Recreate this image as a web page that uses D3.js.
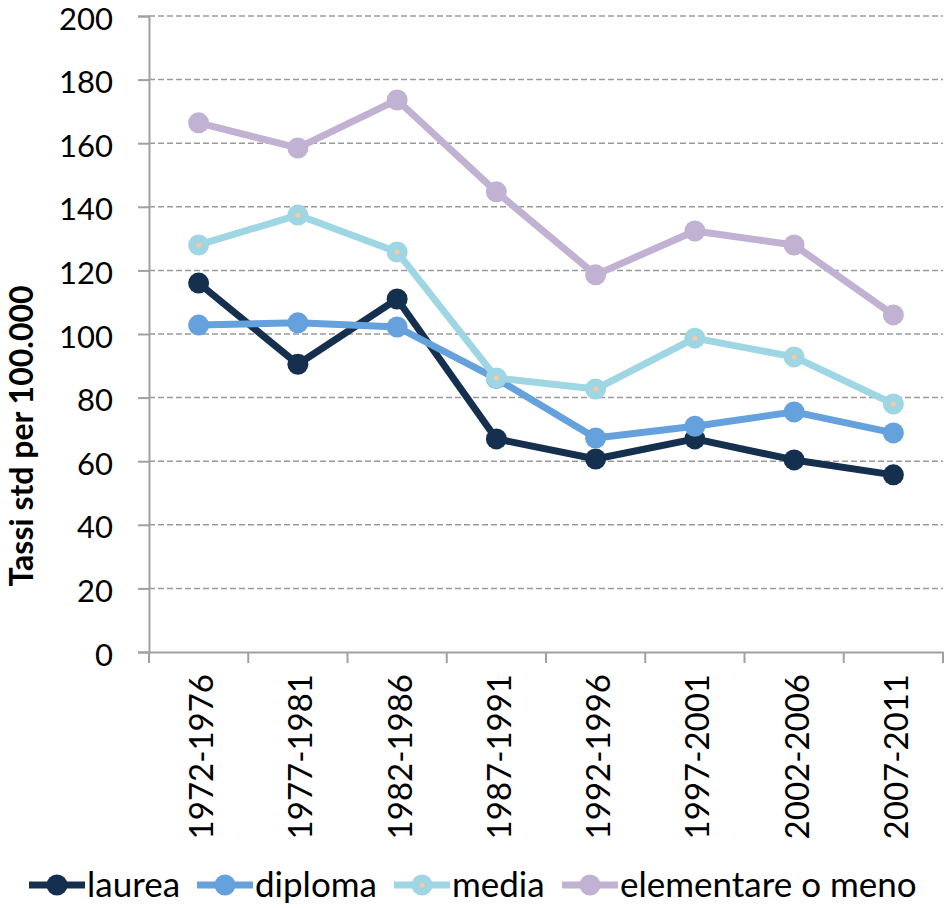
<!DOCTYPE html>
<html>
<head>
<meta charset="utf-8">
<script src="https://cdnjs.cloudflare.com/ajax/libs/d3/7.8.5/d3.min.js"></script>
<style>
  body { margin: 0; background: #fff; }
  text { font-family: Lato, "Open Sans", sans-serif; }
</style>
</head>
<body>
<div id="chart"></div>
<script>
const periods = ["1972-1976", "1977-1981", "1982-1986", "1987-1991", "1992-1996", "1997-2001", "2002-2006", "2007-2011"];
const laurea = [116, 90.5, 111, 67, 60.7, 67, 60.4, 55.7];
const diploma = [102.8, 103.5, 102.2, 86, 67.3, 71, 75.5, 68.9];
const media = [128, 137.4, 125.8, 86.2, 82.7, 98.7, 92.8, 78];
const elementare = [166.4, 158.5, 173.6, 144.7, 118.6, 132.4, 128, 106];
const yTicks = [0, 20, 40, 60, 80, 100, 120, 140, 160, 180, 200];

const series = [
    {name: "laurea", values: laurea, color: "#15304f", dot: null},
    {name: "diploma", values: diploma, color: "#64a1dd", dot: null},
    {name: "media", values: media, color: "#9fd6e4", dot: "#f7c9a0"},
    {name: "elementare o meno", values: elementare, color: "#c1b2d3", dot: null}
];

const W = 945, H = 908;
const margin = {top: 16, right: 2, bottom: 256, left: 149};
const w = W - margin.left - margin.right;
const h = H - margin.top - margin.bottom;

const svg = d3.select("#chart").append("svg")
    .attr("width", W)
    .attr("height", H);
const g = svg.append("g")
    .attr("transform", `translate(${margin.left},${margin.top})`);

const x = d3.scaleBand().domain(periods).range([0, w]);
const y = d3.scaleLinear().domain([0, 200]).range([h, 0]);

// gridlines
g.selectAll(".grid")
    .data(yTicks.filter(d => d > 0))
    .enter().append("line")
        .attr("x1", 0).attr("x2", w)
        .attr("y1", d => y(d)).attr("y2", d => y(d))
        .attr("stroke", "#9a9a9a")
        .attr("stroke-width", 1.5)
        .attr("stroke-dasharray", "6,3");

// y axis
const yAxis = g.append("g")
    .call(d3.axisLeft(y).tickValues(yTicks).tickSize(11).tickPadding(25));
yAxis.select(".domain").attr("stroke", "#a0a0a0").attr("stroke-width", 2);
yAxis.selectAll(".tick line").attr("stroke", "#a0a0a0").attr("stroke-width", 2);
yAxis.selectAll("text")
    .attr("dy", "0.42em")
    .style("font-size", "31px")
    .style("fill", "#000");

// x axis
const xAxis = g.append("g")
    .attr("transform", `translate(0,${h})`)
    .call(d3.axisBottom(x).tickSize(0).tickPadding(0));
xAxis.select(".domain").attr("stroke", "#a0a0a0").attr("stroke-width", 2);
xAxis.selectAll(".tick text")
    .attr("transform", "rotate(-90)")
    .attr("x", -22)
    .attr("y", 3)
    .attr("dy", "0.35em")
    .style("text-anchor", "end")
    .style("font-size", "33px")
    .style("fill", "#000");
// category boundary ticks
g.selectAll(".xtick")
    .data(d3.range(periods.length + 1))
    .enter().append("line")
        .attr("x1", i => i * x.step()).attr("x2", i => i * x.step())
        .attr("y1", h).attr("y2", h + 11)
        .attr("stroke", "#a0a0a0")
        .attr("stroke-width", 2);

// y title
svg.append("text")
    .attr("transform", "translate(33,436) rotate(-90)")
    .style("text-anchor", "middle")
    .style("font-size", "32px")
    .style("font-weight", "bold")
    .text("Tassi std per 100.000");

const cx = (d, i) => x(periods[i]) + x.bandwidth() / 2;
const line = d3.line().x(cx).y(d => y(d));

series.forEach(s => {
    g.append("path")
        .datum(s.values)
        .attr("d", line)
        .attr("fill", "none")
        .attr("stroke", s.color)
        .attr("stroke-width", 7)
        .attr("stroke-linejoin", "round");
    g.selectAll(null)
        .data(s.values)
        .enter().append("circle")
            .attr("cx", cx)
            .attr("cy", d => y(d))
            .attr("r", 10.5)
            .attr("fill", s.color);
    if (s.dot) {
        g.selectAll(null)
            .data(s.values)
            .enter().append("circle")
                .attr("cx", cx)
                .attr("cy", d => y(d))
                .attr("r", 2.5)
                .attr("fill", s.dot);
    }
});

// legend
const legendX = [29, 197, 394, 562];
const legendY = 885;
const legend = svg.append("g");
series.forEach((s, i) => {
    const lg = legend.append("g").attr("transform", `translate(${legendX[i]},${legendY})`);
    lg.append("line")
        .attr("x1", 0).attr("x2", 56)
        .attr("stroke", s.color)
        .attr("stroke-width", 7);
    lg.append("circle")
        .attr("cx", 28).attr("r", 10.5)
        .attr("fill", s.color);
    if (s.dot) {
        lg.append("circle").attr("cx", 28).attr("r", 2.5).attr("fill", s.dot);
    }
    lg.append("text")
        .attr("x", 58)
        .attr("dy", "0.35em")
        .style("font-size", "35px")
        .text(s.name);
});
</script>
</body>
</html>
